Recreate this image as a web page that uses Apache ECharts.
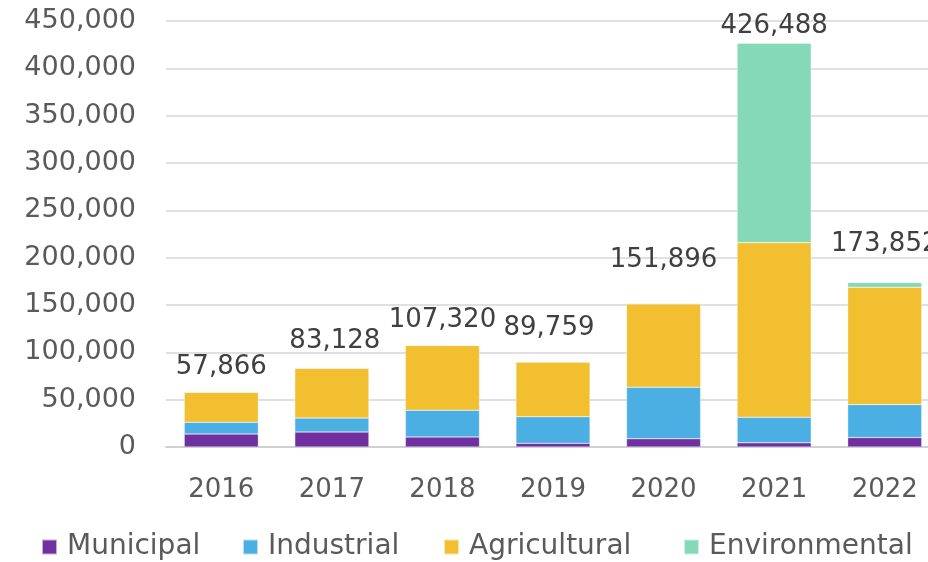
<!DOCTYPE html>
<html>
<head>
<meta charset="utf-8">
<script src="https://cdn.jsdelivr.net/npm/echarts@6/dist/echarts.min.js"></script>
<style>
  html, body { margin: 0; padding: 0; background: #ffffff; }
  #chart { width: 928px; height: 562px; }
</style>
</head>
<body>
<div id="chart"></div>
<script>
// Water use by sector, 2016–2022
const years = ['2016', '2017', '2018', '2019', '2020', '2021', '2022'];
const municipal = [13700, 15800, 10600, 3900, 8700, 4400, 10000];
const industrial = [12400, 14800, 28200, 28100, 54500, 27000, 34800];
const agricultural = [31766, 52528, 68520, 57759, 87896, 184500, 124000];
const environmental = [0, 0, 0, 0, 800, 210588, 5052];
const totals = [57866, 83128, 107320, 89759, 151896, 426488, 173852];
const yTicks = [0, 50000, 100000, 150000, 200000, 250000, 300000, 350000, 400000, 450000];

const FONT = '"DejaVu Sans"';
const TEXT = '#5a5a5a';
const colors = {
  Municipal: '#7030a0',
  Industrial: '#4cafe3',
  Agricultural: '#f2bf30',
  Environmental: '#85d9b8'
};

// nudges for the total labels so they sit clear of each bar
const totalLabelShift = [[0, -11], [3, -14], [0, -12], [-4, -20], [0, -29], [0, -4], [0, -25]];

const fmt = v => Number(v).toLocaleString('en-US');

function barSeries(name, values) {
  return {
    name: name,
    type: 'bar',
    stack: 'use',
    barWidth: '67%',
    data: values,
    itemStyle: { color: colors[name], borderColor: 'rgba(255,255,255,0.6)', borderWidth: 0.5 },
    emphasis: { disabled: true }
  };
}

const legendLefts = [36, 237, 438, 678];
const names = ['Municipal', 'Industrial', 'Agricultural', 'Environmental'];

const chart = echarts.init(document.getElementById('chart'), null, { renderer: 'canvas' });
chart.setOption({
  animation: false,
  backgroundColor: '#ffffff',
  textStyle: { fontFamily: FONT },
  grid: {
    left: 166, top: 21, width: 774, bottom: 115,
    containLabel: false,
    outerBoundsMode: 'none'
  },
  legend: names.map((n, i) => ({
    data: [n],
    left: legendLefts[i],
    top: 528,
    itemWidth: 15,
    itemHeight: 15,
    icon: 'rect',
    selectedMode: false,
    textStyle: { fontFamily: FONT, fontSize: 28, color: TEXT, padding: [0, 0, 0, 5] }
  })),
  xAxis: {
    type: 'category',
    data: years,
    axisTick: { show: false },
    axisLine: { show: true, lineStyle: { color: '#d0d0d0', width: 2 } },
    axisLabel: { color: TEXT, fontSize: 26, fontFamily: FONT, margin: 30 }
  },
  yAxis: {
    type: 'value',
    min: yTicks[0],
    max: yTicks[yTicks.length - 1],
    interval: yTicks[1] - yTicks[0],
    axisLine: { show: false },
    axisTick: { show: false },
    splitLine: { lineStyle: { color: '#e0e0e0', width: 2 } },
    axisLabel: { color: TEXT, fontSize: 27, fontFamily: FONT, margin: 30, formatter: fmt }
  },
  series: [
    barSeries('Municipal', municipal),
    barSeries('Industrial', industrial),
    barSeries('Agricultural', agricultural),
    barSeries('Environmental', environmental),
    {
      name: 'Total',
      type: 'line',
      data: totals.map((v, i) => ({
        value: v,
        label: { offset: totalLabelShift[i] }
      })),
      symbol: 'circle',
      symbolSize: 1,
      showSymbol: true,
      itemStyle: { color: 'rgba(0,0,0,0)' },
      lineStyle: { opacity: 0 },
      silent: true,
      z: 10,
      label: {
        show: true,
        position: 'top',
        distance: 0,
        color: '#404040',
        fontSize: 26,
        fontFamily: FONT,
        formatter: p => fmt(p.value)
      }
    }
  ]
});
</script>
</body>
</html>
